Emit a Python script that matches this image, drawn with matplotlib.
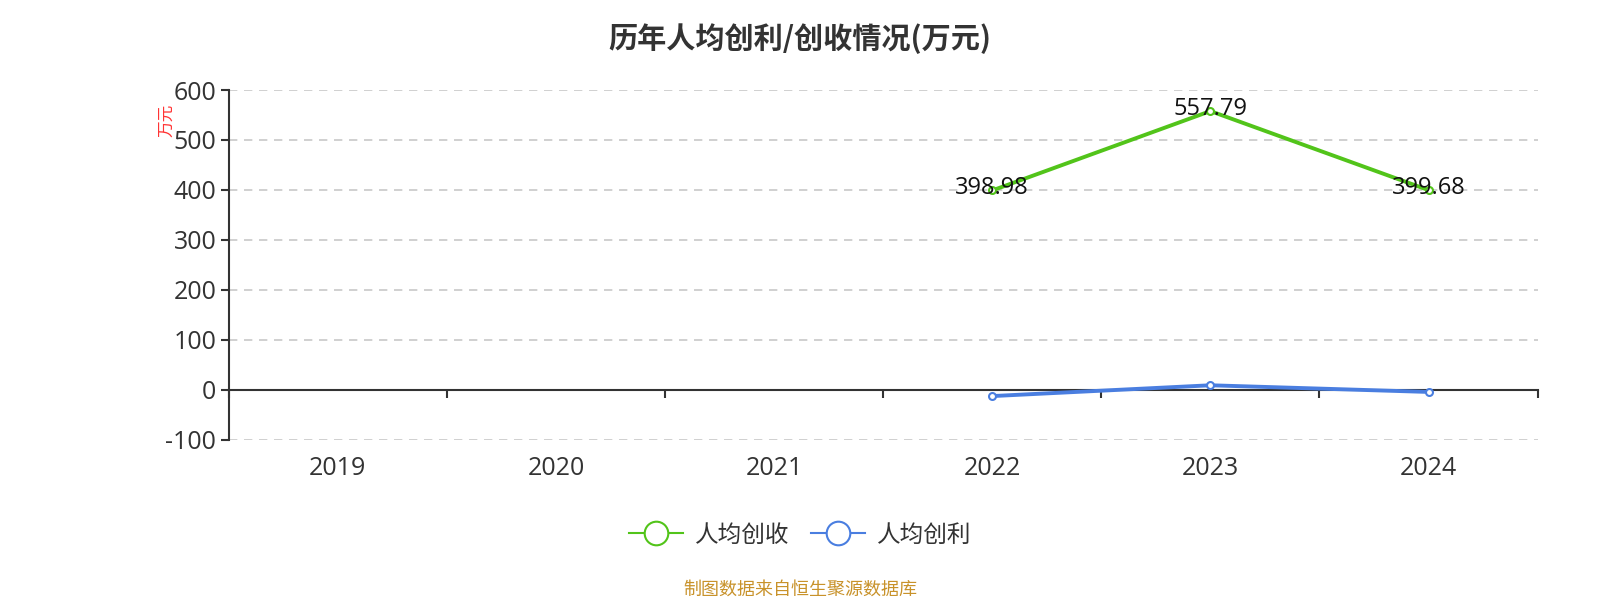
"""
历年人均创利/创收情况(万元)
"""
import numpy as np
import matplotlib
matplotlib.use('Agg')
import matplotlib.pyplot as plt
from matplotlib.lines import Line2D

plt.rcParams['font.family'] = ['Open Sans', 'Noto Sans CJK SC', 'DejaVu Sans']
plt.rcParams['axes.unicode_minus'] = False
cjk = ['Noto Sans CJK SC', 'DejaVu Sans']

# 数据
years = ['2019', '2020', '2021', '2022', '2023', '2024']
revenue_per_capita = [np.nan, np.nan, np.nan, 398.98, 557.79, 399.68]   # 人均创收
profit_per_capita = [np.nan, np.nan, np.nan, -12.5, 9.1, -4.2]         # 人均创利
revenue_labels = ['', '', '', '398.98', '557.79', '399.68']

green = '#52c41a'
blue = '#4a7ee0'
axis_color = '#333333'

fig = plt.figure(figsize=(16, 6), dpi=100)
ax = fig.add_axes([0.143, 0.267, 0.818, 0.583])

x = np.arange(len(years))
ax.plot(x, revenue_per_capita, color=green, lw=2.8, marker='o', ms=5,
        mfc='white', mec=green, mew=1.5, zorder=3)
ax.plot(x, profit_per_capita, color=blue, lw=2.8, marker='o', ms=5,
        mfc='white', mec=blue, mew=1.5, zorder=3)

for xi, v, lab in zip(x, revenue_per_capita, revenue_labels):
    if lab:
        ax.text(xi, v + 4, lab, ha='center', va='center', fontsize=17,
                color='#111111', zorder=4)

ymin, ymax = -100, 600
ax.set_ylim(ymin, ymax)
ax.set_xlim(-0.5, len(years) - 0.5)
yticks = list(range(-100, 601, 100))
ax.set_yticks(yticks)
ax.yaxis.grid(True, linestyle=(0, (5, 4)), color='#c8c8c8', lw=1.2)
ax.yaxis.get_gridlines()[yticks.index(0)].set_visible(False)
ax.set_axisbelow(True)

for s in ['top', 'right', 'bottom']:
    ax.spines[s].set_visible(False)
ax.spines['left'].set_color(axis_color)
ax.spines['left'].set_linewidth(1.5)
ax.tick_params(axis='y', length=6, width=1.5, color=axis_color,
               labelsize=18, labelcolor='#333333', pad=3)

# 类目标签放在底部
ax.set_xticks(x)
ax.set_xticklabels(years)
ax.tick_params(axis='x', length=0, labelsize=18, labelcolor='#333333', pad=12)

# 0 值处的类目轴
loc0 = (0 - ymin) / (ymax - ymin)
sec = ax.secondary_xaxis(loc0)
sec.set_xticks(np.arange(-0.5, len(years), 1.0))
sec.set_xticklabels([])
sec.tick_params(axis='x', length=6, width=1.5, color=axis_color)
sec.spines['bottom'].set_color(axis_color)
sec.spines['bottom'].set_linewidth(1.5)

fig.text(0.104, 0.80, '万元', rotation=90, color='#ff3333', fontsize=12,
         ha='center', va='center', family=cjk)

fig.suptitle('历年人均创利/创收情况(万元)', y=0.962, fontsize=21,
             fontweight='bold', color='#333333', family=cjk)

handles = [
    Line2D([], [], color=green, lw=1.5, marker='o', ms=17, mfc='white',
           mec=green, mew=1.5),
    Line2D([], [], color=blue, lw=1.5, marker='o', ms=17, mfc='white',
           mec=blue, mew=1.5),
]
fig.legend(handles, ['人均创收', '人均创利'], loc='center',
           bbox_to_anchor=(0.5, 0.108), ncol=2, frameon=False,
           prop={'family': cjk, 'size': 17}, handlelength=2.3,
           columnspacing=0.9, handletextpad=0.5, labelcolor='#333333')

fig.text(0.5, 0.018, '制图数据来自恒生聚源数据库', ha='center', va='center',
         fontsize=13, color='#c8922a', family=cjk)

fig.savefig('out.png', dpi=100)
